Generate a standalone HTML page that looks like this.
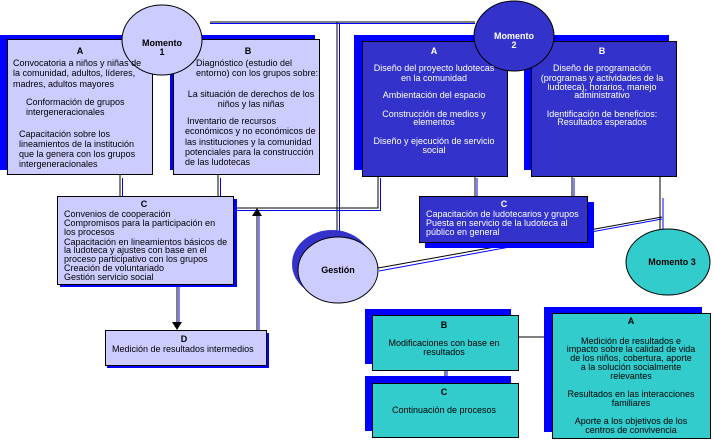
<!DOCTYPE html>
<html><head><meta charset="utf-8"><style>
html,body{margin:0;padding:0;background:#fff;}
svg{display:block;font-family:"Liberation Sans",sans-serif;}
text{font-size:9px;}
.w{fill:#fff}
.b{font-weight:bold}
</style></head><body>
<svg width="714" height="445" viewBox="0 0 714 445" xmlns="http://www.w3.org/2000/svg">
<!-- connectors -->
<g fill="none" stroke-width="1">
<path d="M210 22 H475 M337 22 V245" stroke="#000"/>
<path d="M210 23.5 H475 M339.5 23 V245" stroke="#00f"/>
<path d="M120 175 V196 M218 175 V196" stroke="#000"/>
<path d="M122.5 178 V196 M220.5 178 V196" stroke="#00f"/>
<path d="M235 208 H378 V176" stroke="#000"/>
<path d="M235 210.5 H380.5 V178" stroke="#00f"/>
<path d="M475 176 V196 M572 176 V196 M660 176 V229" stroke="#000"/>
<path d="M477 178 V196 M574 178 V196 M663 198 V230" stroke="#00f"/>
<path d="M378 268 L662 217" stroke="#000"/>
<path d="M379 271 L662 219" stroke="#00f"/>
<path d="M177 284 V322" stroke="#000"/>
<path d="M179 284 V322" stroke="#00f"/>
<path d="M257 330 V216" stroke="#000"/>
<path d="M259 330 V216" stroke="#00f"/>
<path d="M518 337 H544" stroke="#000"/>
<path d="M445 370 V383" stroke="#000"/>
<path d="M447 370 V383" stroke="#00f"/>
</g>
<path d="M172 322 L182 322 L177 330Z" fill="#000"/>
<path d="M252 216 L262 216 L257 208Z" fill="#000"/>

<!-- Momento 1 -->
<rect x="0" y="35" width="145" height="135" fill="#00f"/>
<rect x="170" y="35" width="145" height="135" fill="#00f"/>
<rect x="7.5" y="39.5" width="145" height="135" fill="#ccccff" stroke="#000"/>
<rect x="173.5" y="39.5" width="146" height="135" fill="#ccccff" stroke="#000"/>
<ellipse cx="162" cy="40" rx="40" ry="35" fill="#ccccff" stroke="#000"/>
<text x="162" y="46" text-anchor="middle" class="b">Momento</text>
<text x="162" y="55" text-anchor="middle" class="b">1</text>
<text x="80" y="54" text-anchor="middle" class="b">A</text>
<text x="13" y="66">Convocatoria a niños y niñas de</text>
<text x="13" y="76">la comunidad, adultos, líderes,</text>
<text x="13" y="87">madres, adultos mayores</text>
<text x="26" y="105">Conformación de grupos</text>
<text x="26" y="115">intergeneracionales</text>
<text x="19" y="137">Capacitación sobre los</text>
<text x="19" y="147">lineamientos de la institución</text>
<text x="19" y="157">que la genera con los grupos</text>
<text x="19" y="167">intergeneracionales</text>
<text x="248" y="54" text-anchor="middle" class="b">B</text>
<text x="196" y="66">Diagnóstico (estudio del</text>
<text x="196" y="76">entorno) con los grupos sobre:</text>
<text x="251" y="97" text-anchor="middle">La situación de derechos de los</text>
<text x="251" y="107" text-anchor="middle">niños y las niñas</text>
<text x="187" y="124">Inventario de recursos</text>
<text x="185" y="134">económicos y no económicos de</text>
<text x="185" y="145">las instituciones y la comunidad</text>
<text x="185" y="155">potenciales para la construcción</text>
<text x="185" y="165">de las ludotecas</text>

<rect x="60" y="199" width="177" height="88" fill="#00f"/>
<rect x="57.5" y="196.5" width="176" height="88" fill="#ccccff" stroke="#000"/>
<text x="144" y="207" text-anchor="middle" class="b">C</text>
<text x="64" y="217">Convenios de cooperación</text>
<text x="64" y="226">Compromisos para la participación en</text>
<text x="64" y="235">los procesos</text>
<text x="64" y="245">Capacitación en lineamientos básicos de</text>
<text x="64" y="253">la ludoteca y ajustes con base en el</text>
<text x="64" y="262">proceso participativo con los grupos</text>
<text x="64" y="271">Creación de voluntariado</text>
<text x="64" y="280">Gestión servicio social</text>

<rect x="107" y="333" width="162" height="35" fill="#00f"/>
<rect x="105.5" y="330.5" width="161" height="35" fill="#ccccff" stroke="#000"/>
<text x="184" y="342" text-anchor="middle" class="b">D</text>
<text x="112" y="352">Medición de resultados intermedios</text>

<!-- Gestión -->
<ellipse cx="332" cy="264" rx="40" ry="34" fill="#3333cc"/>
<ellipse cx="338" cy="270" rx="40" ry="33" fill="#ccccff" stroke="#000"/>
<text x="338" y="273" text-anchor="middle" class="b">Gestión</text>

<!-- Momento 2 -->
<rect x="354" y="35" width="145" height="135" fill="#00f"/>
<rect x="524" y="35" width="145" height="135" fill="#00f"/>
<rect x="362.5" y="41.5" width="145" height="135" fill="#3333cc" stroke="#000"/>
<rect x="531.5" y="41.5" width="145" height="135" fill="#3333cc" stroke="#000"/>
<ellipse cx="514" cy="36" rx="40" ry="35" fill="#3333cc" stroke="#000"/>
<text x="514" y="39" text-anchor="middle" class="b w">Momento</text>
<text x="514" y="48" text-anchor="middle" class="b w">2</text>
<g class="w" text-anchor="middle">
<text x="434" y="54" class="b w">A</text>
<text x="434" y="71" class="w">Diseño del proyecto ludotecas</text>
<text x="434" y="81" class="w">en la comunidad</text>
<text x="434" y="98" class="w">Ambientación del espacio</text>
<text x="434" y="117" class="w">Construcción de medios y</text>
<text x="434" y="125" class="w">elementos</text>
<text x="434" y="144" class="w">Diseño y ejecución de servicio</text>
<text x="434" y="153" class="w">social</text>
<text x="602" y="54" class="b w">B</text>
<text x="602" y="71" class="w">Diseño de programación</text>
<text x="602" y="81" class="w">(programas y actividades de la</text>
<text x="602" y="90" class="w">ludoteca), horarios, manejo</text>
<text x="602" y="98" class="w">administrativo</text>
<text x="602" y="117" class="w">Identificación de beneficios:</text>
<text x="602" y="125" class="w">Resultados esperados</text>
</g>
<rect x="425" y="202" width="169" height="46" fill="#00f"/>
<rect x="419.5" y="196.5" width="168" height="46" fill="#3333cc" stroke="#000"/>
<text x="504" y="207" text-anchor="middle" class="b w">C</text>
<text x="426" y="217" class="w">Capacitación de ludotecarios y grupos</text>
<text x="426" y="226" class="w">Puesta en servicio de la ludoteca al</text>
<text x="426" y="235" class="w">público en general</text>

<!-- Momento 3 -->
<ellipse cx="668" cy="262" rx="42" ry="33" fill="#33cccc" stroke="#000"/>
<text x="672" y="265" text-anchor="middle" class="b">Momento 3</text>
<rect x="365" y="309" width="146" height="55" fill="#00f"/>
<rect x="365" y="376" width="146" height="55" fill="#00f"/>
<rect x="544" y="307" width="158" height="125" fill="#00f"/>
<rect x="372.5" y="315.5" width="146" height="55" fill="#33cccc" stroke="#000"/>
<rect x="372.5" y="383.5" width="146" height="54" fill="#33cccc" stroke="#000"/>
<rect x="552.5" y="313.5" width="158" height="125" fill="#33cccc" stroke="#000"/>
<g text-anchor="middle">
<text x="444" y="328" class="b">B</text>
<text x="444" y="346">Modificaciones con base en</text>
<text x="444" y="355">resultados</text>
<text x="444" y="395" class="b">C</text>
<text x="444" y="413">Continuación de procesos</text>
<text x="631" y="324" class="b">A</text>
<text x="631" y="344">Medición de resultados e</text>
<text x="631" y="352">impacto sobre la calidad de vida</text>
<text x="631" y="361">de los niños, cobertura, aporte</text>
<text x="631" y="370">a la solución socialmente</text>
<text x="631" y="379">relevantes</text>
<text x="631" y="397">Resultados en las interacciones</text>
<text x="631" y="406">familiares</text>
<text x="631" y="424">Aporte a los objetivos de los</text>
<text x="631" y="433">centros de convivencia</text>
</g>
</svg>
</body></html>
